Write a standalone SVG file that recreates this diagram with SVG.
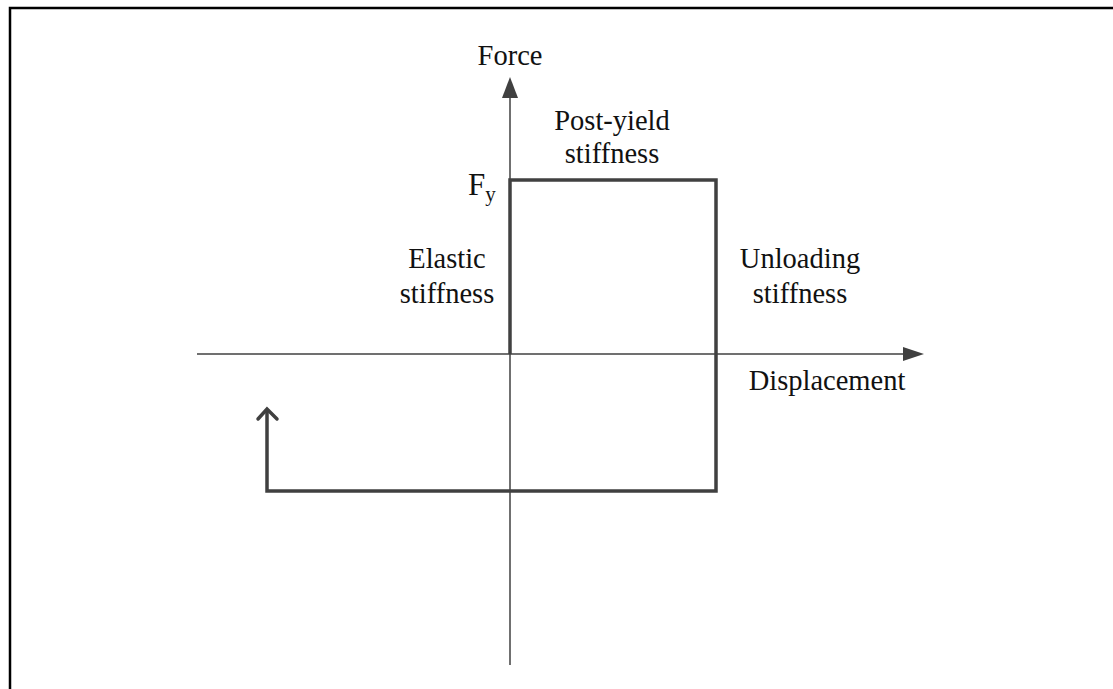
<svg xmlns="http://www.w3.org/2000/svg" width="1113" height="689" viewBox="0 0 1113 689">
<style>
.t{font-family:"Liberation Serif","Times New Roman",serif;font-size:28.5px;fill:#111;text-anchor:middle}
.ax{stroke:#404040;stroke-width:1.5;fill:none}
.th{stroke:#404040;stroke-width:3.5;fill:none;stroke-linejoin:miter}
</style>
<rect x="0" y="0" width="1113" height="689" fill="#fff"/>
<path d="M10 689 V8 H1113" stroke="#000" stroke-width="2.5" fill="none"/>
<g id="connectors">
<path class="ax" d="M510 665 V96"/>
<polygon points="510,77 502,98 518,98" fill="#404040"/>
<path class="ax" d="M197 354 H905"/>
<polygon points="924,354 903,347 903,361" fill="#404040"/>
<path class="th" d="M510 354 V180 H716 V491 H267 V410"/>
<path class="th" d="M258 419 L267 409 L277 419" stroke-linecap="round"/>
</g>
<g id="force"><text class="t" x="510" y="65">Force</text></g>
<g id="displacement"><text class="t" x="827" y="390">Displacement</text></g>
<g id="fy"><text class="t" x="468" y="195" style="text-anchor:start;font-size:31px">F<tspan font-size="21" dy="6">y</tspan></text></g>
<g id="post-yield"><text class="t" x="612" y="130">Post-yield</text><text class="t" x="612" y="163">stiffness</text></g>
<g id="elastic"><text class="t" x="447" y="268">Elastic</text><text class="t" x="447" y="303">stiffness</text></g>
<g id="unloading"><text class="t" x="800" y="268">Unloading</text><text class="t" x="800" y="303">stiffness</text></g>
</svg>
